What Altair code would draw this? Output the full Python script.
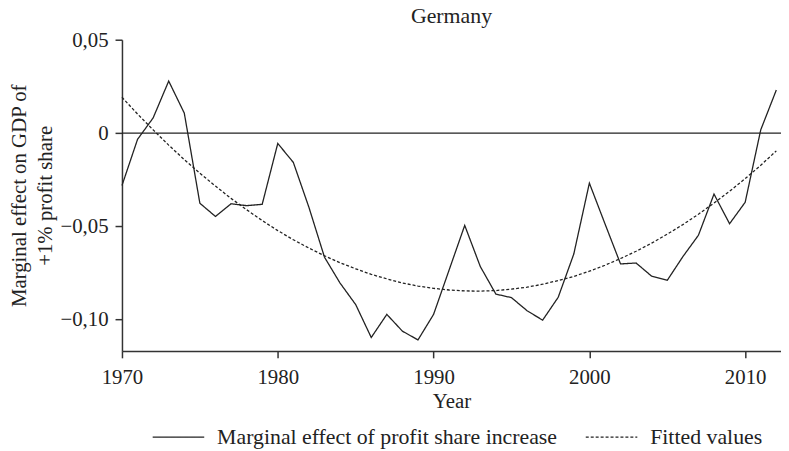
import altair as alt
import pandas as pd

years = list(range(1970, 2013))

marginal_effect = [
    -0.0281, -0.0033, 0.0082, 0.0280, 0.0108, -0.0376, -0.0447, -0.0379, -0.0389, -0.0382,
    -0.0055, -0.0157, -0.0398, -0.0666, -0.0805, -0.0920, -0.1097, -0.0973, -0.1063, -0.1110,
    -0.0973, -0.0734, -0.0495, -0.0716, -0.0864, -0.0883, -0.0953, -0.1004, -0.0881, -0.0649,
    -0.0268, -0.0486, -0.0702, -0.0697, -0.0768, -0.0790, -0.0663, -0.0548, -0.0327, -0.0486,
    -0.0371, 0.0018, 0.0232,
]

fitted_values = [
    0.0193, 0.0103, 0.0018, -0.0064, -0.0142, -0.0215, -0.0284, -0.0350, -0.0411, -0.0469,
    -0.0523, -0.0572, -0.0617, -0.0658, -0.0696, -0.0728, -0.0758, -0.0782, -0.0804, -0.0821,
    -0.0833, -0.0842, -0.0847, -0.0848, -0.0845, -0.0837, -0.0827, -0.0811, -0.0791, -0.0769,
    -0.0741, -0.0709, -0.0673, -0.0634, -0.0590, -0.0542, -0.0491, -0.0435, -0.0375, -0.0312,
    -0.0244, -0.0172, -0.0095,
]

series_names = ["Marginal effect of profit share increase", "Fitted values"]
y_ticks = [0.05, 0, -0.05, -0.10]
x_ticks = [1970, 1980, 1990, 2000, 2010]

FONT = "Liberation Serif"
INK = "#222222"
AXIS_INK = "#333333"

df = pd.concat([
    pd.DataFrame({"year": years, "value": marginal_effect, "series": series_names[0]}),
    pd.DataFrame({"year": years, "value": fitted_values, "series": series_names[1]}),
])

x_enc = alt.X(
    "year:Q",
    scale=alt.Scale(domain=[1970, 2012.3], nice=False, zero=False),
    axis=alt.Axis(
        title="Year", values=x_ticks, format="d", grid=False, labelFlush=False,
        tickSize=7, labelPadding=9, titlePadding=3,
    ),
)
y_enc = alt.Y(
    "value:Q",
    scale=alt.Scale(domain=[-0.1169, 0.0502], nice=False, zero=False),
    axis=alt.Axis(
        title=["Marginal effect on GDP of", "+1% profit share"],
        values=y_ticks, grid=False, tickSize=7, labelPadding=7, titlePadding=5,
        titleLineHeight=26, labelFlush=False,
        labelExpr="datum.value == 0 ? '0' : replace(replace(format(datum.value, '.2f'), '.', ','), '-', '\u2212')",
    ),
)

lines = alt.Chart(df).mark_line(color=INK, strokeWidth=1.3).encode(
    x=x_enc,
    y=y_enc,
    strokeDash=alt.StrokeDash(
        "series:N",
        scale=alt.Scale(domain=series_names, range=[[1, 0], [3, 2]]),
        sort=series_names,
        legend=alt.Legend(
            title=None, orient="none", direction="horizontal",
            legendX=30, legendY=374,
            symbolType="stroke", symbolSize=2704, symbolStrokeWidth=1.3,
            symbolStrokeColor=INK, labelFont=FONT, labelFontSize=22,
            labelColor=INK, labelOffset=12, columnPadding=25, labelLimit=600,
        ),
    ),
    order="year:Q",
)

zero_rule = alt.Chart(pd.DataFrame({"z": [0]})).mark_rule(color=INK, strokeWidth=1.3).encode(
    y="z:Q"
)

chart = alt.layer(lines, zero_rule).properties(
    width=665,
    height=314,
    title=alt.TitleParams(
        "Germany", font=FONT, fontSize=22, fontWeight="normal", color=INK,
        anchor="middle", frame="group", baseline="alphabetic", offset=-16,
    ),
    autosize=alt.AutoSizeParams(type="none"),
    padding={"left": 115, "top": 30, "right": 0, "bottom": 99},
).configure_view(
    stroke=None
).configure_axis(
    labelFont=FONT, titleFont=FONT, labelFontSize=21, titleFontSize=21,
    labelColor=INK, titleColor=INK, titleFontWeight="normal",
    domainColor=AXIS_INK, tickColor=AXIS_INK, domainWidth=1.5, tickWidth=1.5,
)

chart.save("out.html", embed_options={"renderer": "svg", "actions": False})
